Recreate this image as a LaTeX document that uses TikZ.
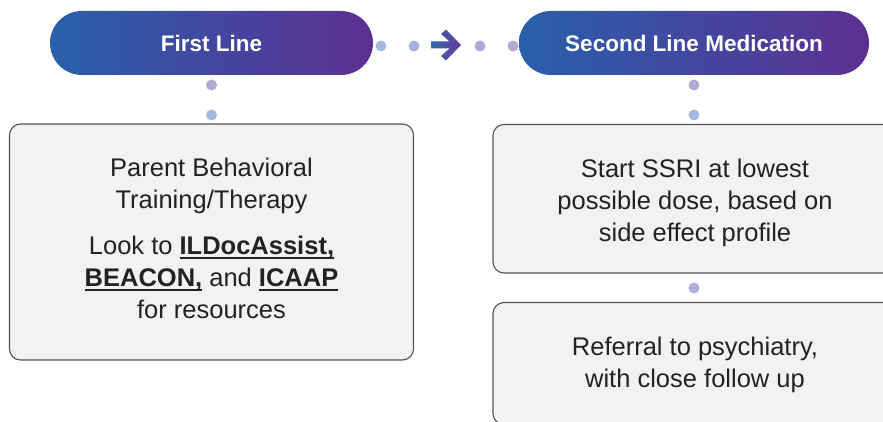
\documentclass[tikz,border=0pt]{standalone}
\usepackage{fontspec}
\setmainfont{Liberation Sans}
\definecolor{gblue}{RGB}{40,96,172}
\definecolor{gpurple}{RGB}{93,47,146}
\definecolor{dotblue}{RGB}{164,184,222}
\definecolor{dotbm}{RGB}{168,176,219}
\definecolor{dotpm}{RGB}{176,168,214}
\definecolor{dotpurple}{RGB}{182,166,211}
\definecolor{boxfill}{RGB}{242,242,242}
\definecolor{boxline}{RGB}{85,85,85}
\definecolor{txt}{RGB}{34,34,34}
\newcommand\ulbf[1]{{\bfseries\setbox0\hbox{#1}\rlap{\rule[-4.5pt]{\wd0}{1.7pt}}\box0}}
\begin{document}
\begin{tikzpicture}[x=1pt,y=-1pt,
  pill/.style={shape=rectangle, rounded corners=32pt, left color=gblue, right color=gpurple,
    draw=none, minimum height=64pt, inner sep=0pt, text=white,
    font=\fontsize{22.5}{27}\selectfont\bfseries},
  dotnode/.style={shape=circle, inner sep=0pt, minimum size=11pt, draw=none},
  infobox/.style={shape=rectangle, rounded corners=11pt, fill=boxfill, draw=boxline,
    line width=1.1pt, minimum width=404pt, inner sep=0pt},
  boxtext/.style={inner sep=0pt, text=txt, align=center,
    font=\fontsize{25.5}{32}\selectfont}
]
\useasboundingbox (0,0) rectangle (883,422);
\begin{scope}
\clip (0,0) rectangle (883,422);
% header pills
\node[pill, minimum width=323pt] (first) at (211.5,43) {First Line};
\node[pill, minimum width=350pt] (second) at (694,43) {Second Line Medication};
% boxes
\node[infobox, minimum height=236pt] (lbox) at (211.5,242) {};
\node[infobox, minimum height=148.5pt] (rbox1) at (695,198.75) {};
\node[infobox, minimum height=122pt] (rbox2) at (695,363.5) {};
% box texts
\node[boxtext] (ltext) at (211.5,238.5)
  {Parent Behavioral\\Training/Therapy\\[14pt]
   Look to \ulbf{ILDocAssist,}\\\ulbf{BEACON,} and \ulbf{ICAAP}\\for resources};
\node[boxtext] (r1text) at (695,202.5)
  {Start SSRI at lowest\\possible dose, based on\\side effect profile};
\node[boxtext] (r2text) at (695,364.5)
  {Referral to psychiatry,\\with close follow up};
% horizontal dotted connector with arrow
\node[dotnode, fill=dotblue] (h1) at (381,46) {};
\node[dotnode, fill=dotbm] (h2) at (414,46) {};
\node[dotnode, fill=dotpm] (h3) at (480,46) {};
\node[dotnode, fill=dotpurple] (h4) at (513,46) {};
\coordinate (arr) at (446,45);
\shade[left color=gblue!95!white, right color=gpurple!95!white, shift={(arr)}]
  (-15,-3.5) -- (3.5,-3.5) -- (-5,-11) -- (0,-15.5) -- (15,0) -- (0,15.5) -- (-5,11)
  -- (3.5,3.5) -- (-15,3.5) -- cycle;
% vertical dots under first
\node[dotnode, fill=dotpurple] (v1) at (211.5,85) {};
\node[dotnode, fill=dotblue] (v2) at (211.5,115) {};
% vertical dots under second
\node[dotnode, fill=dotpurple] (v3) at (694,85) {};
\node[dotnode, fill=dotblue] (v4) at (694,115) {};
% dot between right boxes
\node[dotnode, fill=dotbm] (v5) at (694,288) {};
\end{scope}
\end{tikzpicture}
\end{document}
